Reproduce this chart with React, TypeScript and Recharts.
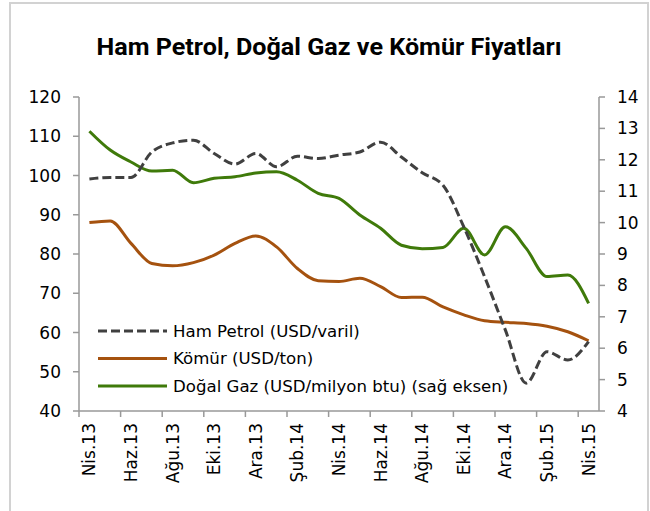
import React from 'react';
import { LineChart, Line, XAxis, YAxis } from 'recharts';

const months = [
  'Nis.13', 'May.13', 'Haz.13', 'Tem.13', 'Ağu.13', 'Eyl.13', 'Eki.13', 'Kas.13', 'Ara.13',
  'Oca.14', 'Şub.14', 'Mar.14', 'Nis.14', 'May.14', 'Haz.14', 'Tem.14', 'Ağu.14', 'Eyl.14',
  'Eki.14', 'Kas.14', 'Ara.14', 'Oca.15', 'Şub.15', 'Mar.15', 'Nis.15',
];

const hamPetrol = [
  99.1, 99.5, 99.5, 106, 108.3, 109, 105.6, 102.9, 105.6, 102.2, 104.9, 104.3, 105.2,
  106, 108.5, 104.7, 100.7, 97.5, 86.9, 74.2, 60.6, 47.1, 55.1, 53, 57.7,
];

const komur = [
  88.0, 88.4, 82.7, 77.6, 77.0, 77.8, 79.7, 82.7, 84.6, 81.8, 76.3, 73.2, 73.0,
  73.8, 71.7, 68.9, 69.0, 66.5, 64.5, 63.0, 62.6, 62.3, 61.6, 60.2, 57.9,
];

const dogalGaz = [
  12.91, 12.31, 11.93, 11.64, 11.67, 11.27, 11.41, 11.46, 11.58, 11.62, 11.35, 10.93, 10.77,
  10.24, 9.82, 9.28, 9.17, 9.21, 9.82, 8.97, 9.87, 9.18, 8.28, 8.33, 7.43,
];

const leftTicks = [40, 50, 60, 70, 80, 90, 100, 110, 120];
const rightTicks = [4, 5, 6, 7, 8, 9, 10, 11, 12, 13, 14];
// tick marks sit between categories, every second month
const xTicks = months.filter((_, i) => i % 2 === 0).map((_, k) => k * 2 - 0.5);

const series = [
  { key: 'petrol', name: 'Ham Petrol (USD/varil)', color: '#404040', dash: '9 4', axis: 'left' },
  { key: 'komur', name: 'Kömür (USD/ton)', color: '#A5520F', dash: undefined, axis: 'left' },
  { key: 'gaz', name: 'Doğal Gaz (USD/milyon btu) (sağ eksen)', color: '#3F7A0A', dash: undefined, axis: 'right' },
];

const data = months.map((m, i) => ({
  i,
  month: m,
  petrol: hamPetrol[i],
  komur: komur[i],
  gaz: dogalGaz[i],
}));

const W = 650;
const H = 511;
const LEFT_W = 79;
const RIGHT_W = 51;
const HALF = (W - LEFT_W - RIGHT_W) / months.length / 2;
const FONT = 'DejaVu Sans, sans-serif';
const AXIS = '#999999';

const XTick = (props: any) => {
  const { x, y, payload } = props;
  const label = months[Math.round(payload.value + 0.5)];
  return (
    <text
      x={0}
      y={0}
      transform={`translate(${x + HALF},${y + 4}) rotate(-90)`}
      textAnchor="end"
      dy="0.35em"
      fontFamily={FONT}
      fontSize={17}
      fill="#000"
    >
      {label}
    </text>
  );
};

export default function App() {
  return (
    <div style={{ position: 'absolute', left: 0, top: 0, width: W, height: H, background: '#fff', overflow: 'hidden' }}>
      <div
        style={{
          position: 'absolute',
          left: 9,
          top: 2,
          width: 640,
          height: 520,
          boxSizing: 'border-box',
          borderLeft: '2px solid #d2d2d2',
          borderTop: '2px solid #d2d2d2',
          borderRight: '2px solid #d2d2d2',
        }}
      />
      <LineChart
        width={W}
        height={H}
        data={data}
        margin={{ top: 97, right: 0, bottom: 30, left: 0 }}
        style={{ position: 'absolute', left: 0, top: 0 }}
      >
        <XAxis
          dataKey="i"
          type="number"
          domain={[-0.5, 24.5]}
          ticks={xTicks}
          height={70}
          tickSize={6}
          tick={<XTick />}
          axisLine={{ stroke: AXIS, strokeWidth: 1.5 }}
          tickLine={{ stroke: AXIS, strokeWidth: 1.5 }}
        />
        <YAxis
          yAxisId="left"
          domain={[40, 120]}
          ticks={leftTicks}
          width={LEFT_W}
          tickSize={6}
          tickMargin={12}
          tick={{ fill: '#000', fontSize: 17, fontFamily: FONT }}
          axisLine={{ stroke: AXIS, strokeWidth: 1.5 }}
          tickLine={{ stroke: AXIS, strokeWidth: 1.5 }}
        />
        <YAxis
          yAxisId="right"
          orientation="right"
          domain={[4, 14]}
          ticks={rightTicks}
          width={RIGHT_W}
          tickSize={6}
          tickMargin={12}
          tick={{ fill: '#000', fontSize: 17, fontFamily: FONT }}
          axisLine={{ stroke: AXIS, strokeWidth: 1.5 }}
          tickLine={{ stroke: AXIS, strokeWidth: 1.5 }}
        />
        {series.slice().reverse().map((s) => (
          <Line
            key={s.key}
            yAxisId={s.axis}
            dataKey={s.key}
            name={s.name}
            type="monotone"
            stroke={s.color}
            strokeWidth={3}
            strokeDasharray={s.dash}
            dot={false}
            activeDot={false}
            isAnimationActive={false}
          />
        ))}
      </LineChart>
      <svg width={W} height={H} style={{ position: 'absolute', left: 0, top: 0, pointerEvents: 'none' }}>
        <text
          x={329}
          y={55}
          textAnchor="middle"
          fontFamily="Roboto, sans-serif"
          fontWeight={700}
          fontSize={23}
          textLength={465}
          lengthAdjust="spacingAndGlyphs"
          fill="#000"
        >
          Ham Petrol, Doğal Gaz ve Kömür Fiyatları
        </text>
        {series.map((s, k) => {
          const y = 331 + k * 27.5;
          return (
            <g key={s.key}>
              <line x1={98} x2={167} y1={y} y2={y} stroke={s.color} strokeWidth={3} strokeDasharray={s.dash} />
              <text x={173} y={y} dy="0.35em" fontFamily={FONT} fontSize={16.6} fill="#000">
                {s.name}
              </text>
            </g>
          );
        })}
      </svg>
    </div>
  );
}
